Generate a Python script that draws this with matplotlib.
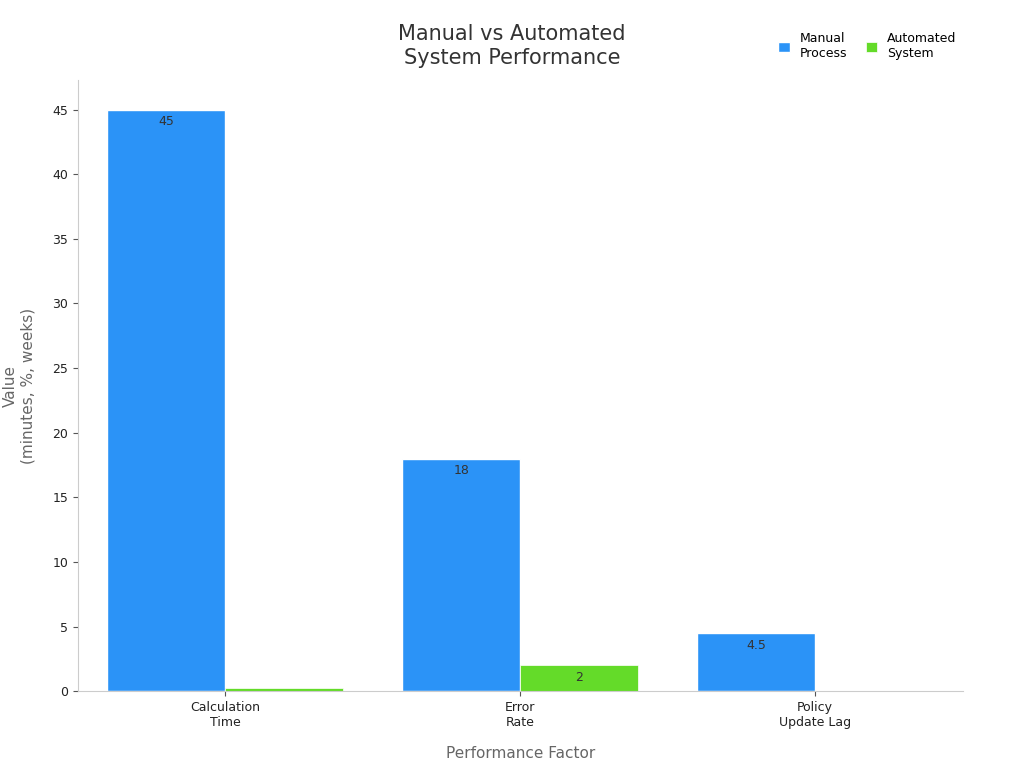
import numpy as np
import matplotlib.pyplot as plt

categories = ['Calculation\nTime', 'Error\nRate', 'Policy\nUpdate Lag']
manual = [45, 18, 4.5]
automated = [0.25, 2, 0]
manual_labels = ['45', '18', '4.5']
auto_labels = ['', '2', '']

fig = plt.figure(figsize=(10.24, 7.68), dpi=100)
ax = fig.add_axes([0.076, 0.100, 0.864, 0.796])

x = np.arange(len(categories))
w = 0.4
b1 = ax.bar(x - w / 2, manual, w, color='#2b93f7', edgecolor='white', linewidth=1, label='Manual\nProcess')
b2 = ax.bar(x + w / 2, automated, w, color='#64db29', edgecolor='white', linewidth=0.5, label='Automated\nSystem')

for bars, labs in ((b1, manual_labels), (b2, auto_labels)):
    for bar, lab in zip(bars, labs):
        if lab:
            ax.annotate(lab, (bar.get_x() + bar.get_width() / 2, bar.get_height()),
                        xytext=(0, -4), textcoords='offset points',
                        ha='center', va='top', fontsize=9, color='#333333')

ax.set_xlim(-0.5, 2.5)
ax.set_ylim(0, 47.3)
ax.set_yticks(range(0, 46, 5))
ax.set_xticks(x)
ax.set_xticklabels(categories, fontsize=9, color='#222222')
ax.tick_params(axis='y', labelsize=9, labelcolor='#222222', color='#555555')
ax.tick_params(axis='x', color='#555555')
for s in ['top', 'right']:
    ax.spines[s].set_visible(False)
for s in ['left', 'bottom']:
    ax.spines[s].set_color('#cccccc')

ax.set_xlabel('Performance Factor', fontsize=11, color='#666666', labelpad=12)
ax.set_ylabel('Value\n(minutes, %, weeks)', fontsize=11, color='#666666', labelpad=12)
fig.text(0.5, 0.94, 'Manual vs Automated\nSystem Performance', ha='center', va='center',
         fontsize=15, color='#333333')
fig.legend(loc='center right', bbox_to_anchor=(0.945, 0.94), ncol=2, frameon=False,
           fontsize=9, handlelength=0.9, handleheight=0.9, columnspacing=1.5)

fig.savefig('out.png', dpi=100)
